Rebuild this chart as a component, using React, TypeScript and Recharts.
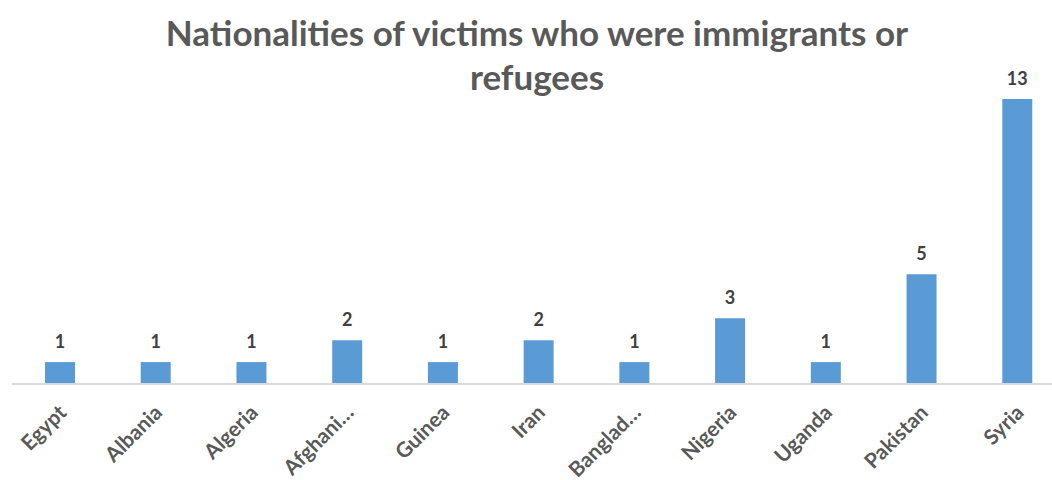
import { BarChart, Bar, XAxis, YAxis, LabelList } from 'recharts';

const countries = ['Egypt', 'Albania', 'Algeria', 'Afghani…', 'Guinea', 'Iran', 'Banglad…', 'Nigeria', 'Uganda', 'Pakistan', 'Syria'];
const victims = [1, 1, 1, 2, 1, 2, 1, 3, 1, 5, 13];

const data = countries.map((name, i) => ({ name, value: victims[i] }));

const FONT = 'Lato, "Open Sans", sans-serif';

function CountryTick({ x, y, payload }: any) {
    return (
        <g transform={`translate(${x - 2},${y + 12})`}>
            <text
                transform="rotate(-45)"
                textAnchor="end"
                dy={14}
                fill="#595959"
                fontFamily={FONT}
                fontWeight={700}
                fontSize={21}
            >
                {payload.value}
            </text>
        </g>
    );
}

export default function App() {
    return (
        <div style={{ position: 'absolute', left: 0, top: 0, width: 1052, height: 480, overflow: 'hidden', background: '#fff' }}>
            <div
                style={{
                    position: 'absolute',
                    left: 0,
                    top: 10,
                    width: 1074,
                    textAlign: 'center',
                    fontFamily: FONT,
                    fontWeight: 700,
                    fontSize: 35,
                    lineHeight: '44px',
                    color: '#595959',
                }}
            >
                Nationalities of victims who were immigrants or
                <br />
                refugees
            </div>
            <BarChart
                width={1065}
                height={480}
                data={data}
                margin={{ top: 77, right: 0, left: 12, bottom: 6 }}
                barSize={30}
            >
                <XAxis
                    dataKey="name"
                    interval={0}
                    height={90}
                    tickLine={false}
                    axisLine={{ stroke: '#d9d9d9', strokeWidth: 2 }}
                    tick={<CountryTick />}
                />
                <YAxis hide domain={[0, 14]} />
                <Bar dataKey="value" fill="#5b9bd5" isAnimationActive={false}>
                    <LabelList
                        dataKey="value"
                        position="top"
                        offset={14}
                        fill="#404040"
                        fontFamily={FONT}
                        fontWeight={700}
                        fontSize={18}
                    />
                </Bar>
            </BarChart>
        </div>
    );
}
